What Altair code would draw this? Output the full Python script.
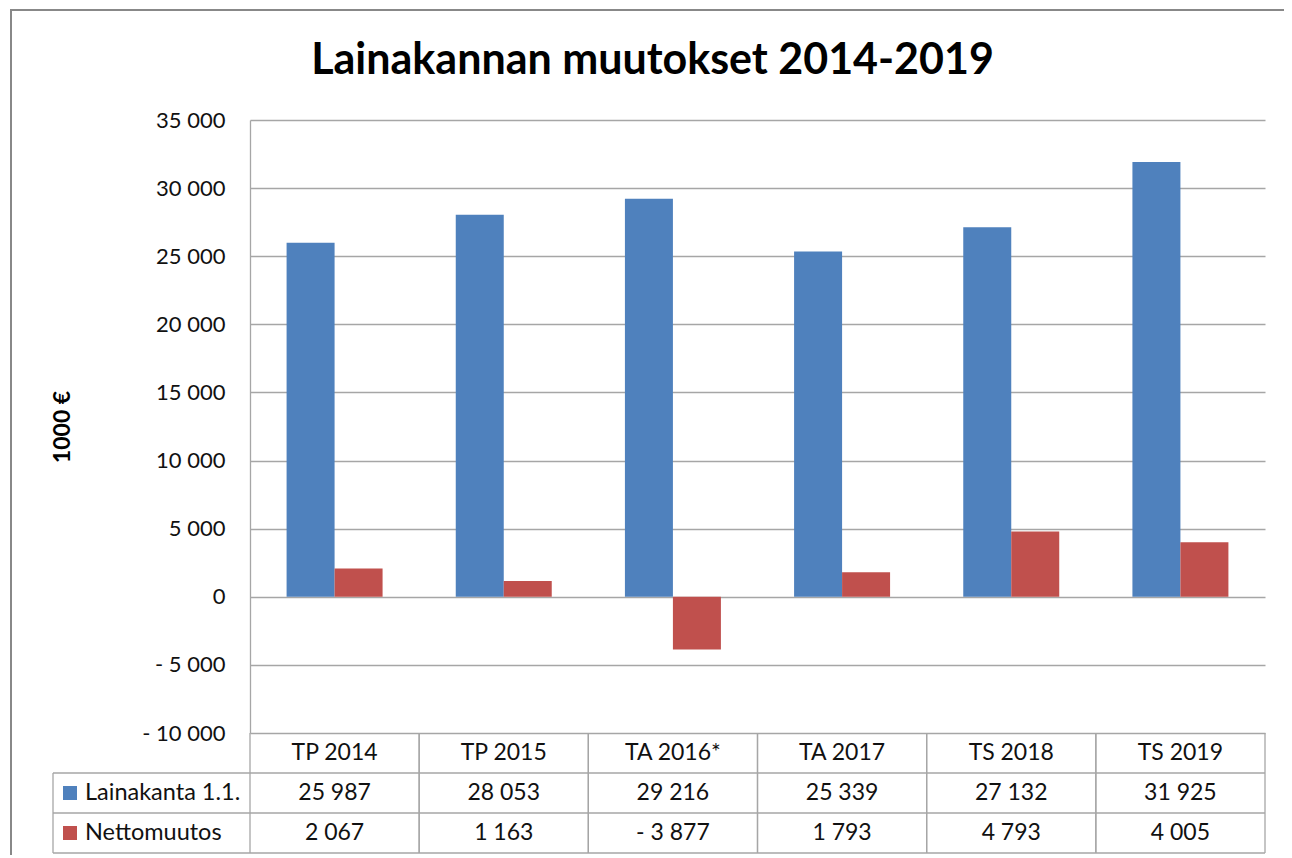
import altair as alt
import pandas as pd

# ---------------- data ----------------
categories = ["TP 2014", "TP 2015", "TA 2016*", "TA 2017", "TS 2018", "TS 2019"]
series_names = ["Lainakanta 1.1.", "Nettomuutos"]
lainakanta = [25987, 28053, 29216, 25339, 27132, 31925]
nettomuutos = [2067, 1163, -3877, 1793, 4793, 4005]
series_colors = ["#4F81BD", "#C0504D"]
y_ticks = [-10000, -5000, 0, 5000, 10000, 15000, 20000, 25000, 30000, 35000]
table_rows = ["otsikko", "Lainakanta 1.1.", "Nettomuutos"]
chart_title = "Lainakannan muutokset 2014-2019"
y_title = "1000 €"


def fmt(v):
    s = f"{abs(v):,}".replace(",", " ")
    return ("- " + s) if v < 0 else s


records = []
for name, vals in zip(series_names, [lainakanta, nettomuutos]):
    for c, v in zip(categories, vals):
        records.append({"kategoria": c, "sarja": name, "arvo": v, "teksti": fmt(v)})
df = pd.DataFrame(records)
cat_df = pd.DataFrame({"kategoria": categories, "rivi": table_rows[0]})
row_df = pd.DataFrame({"rivi": table_rows})
leg_df = pd.DataFrame({"sarja": series_names})

# ---------------- layout ----------------
W, H = 1015, 613
TABLE_TOP, TABLE_BOTTOM = H, H + 120
LEG_LEFT = -197
FONT = "Lato"
LINE = "#A6A6A6"
TEXT = "#111111"
FS_TICK = 22
FS_TABLE = 23
FS_LEG = 23.5

x_scale = alt.Scale(domain=categories, paddingInner=0, paddingOuter=0)
row_scale = alt.Scale(type="band", domain=table_rows, range=[TABLE_TOP, TABLE_BOTTOM],
                      paddingInner=0, paddingOuter=0)
color_scale = alt.Scale(domain=series_names, range=series_colors)

label_expr = ("datum.value == 0 ? '0' : (datum.value < 0 ? '- ' : '') + "
              "format(abs(datum.value) / 1000, 'd') + ' 000'")

frame = alt.Chart(pd.DataFrame({"k": [0]})).mark_rect(
    fillOpacity=0, stroke="#888888", strokeWidth=2
).encode(x=alt.value(-239), x2=alt.value(1080), y=alt.value(-110), y2=alt.value(800))

bars = alt.Chart(df).mark_bar(size=48).encode(
    x=alt.X("kategoria:N", scale=x_scale, sort=categories, axis=None),
    xOffset=alt.XOffset("sarja:N", sort=series_names,
                        scale=alt.Scale(domain=series_names, paddingInner=0, paddingOuter=0.7625)),
    y=alt.Y("arvo:Q",
            scale=alt.Scale(domain=[-10000, 35000], nice=False, zero=False),
            axis=alt.Axis(values=y_ticks, labelExpr=label_expr, grid=True,
                          gridColor=LINE, gridWidth=1.3, domainColor=LINE, domainWidth=1.3,
                          ticks=False, labelPadding=25, labelFont=FONT, labelFontSize=FS_TICK,
                          labelColor=TEXT,
                          title=y_title, titleFont=FONT, titleFontSize=23,
                          titleFontWeight="bold", titleColor="#000000", titleAngle=270,
                          titleX=-188, titleY=H / 2, titleAlign="center",
                          titleBaseline="middle")),
    color=alt.Color("sarja:N", scale=color_scale, legend=None),
)

# table lines
h_rules = alt.Chart(row_df).mark_rule(color=LINE, strokeWidth=1.3).encode(
    y=alt.Y("rivi:N", scale=row_scale, bandPosition=1, axis=None),
    x=alt.value(LEG_LEFT), x2=alt.value(W),
)
v_rules_end = alt.Chart(cat_df).mark_rule(color=LINE, strokeWidth=1.3).encode(
    x=alt.X("kategoria:N", scale=x_scale, bandPosition=1, axis=None),
    y=alt.value(TABLE_TOP), y2=alt.value(TABLE_BOTTOM),
)
v_rules_start = alt.Chart(cat_df).mark_rule(color=LINE, strokeWidth=1.3).encode(
    x=alt.X("kategoria:N", scale=x_scale, bandPosition=0, axis=None),
    y=alt.value(TABLE_TOP), y2=alt.value(TABLE_BOTTOM),
)
leg_rule = alt.Chart(pd.DataFrame({"k": [0]})).mark_rule(color=LINE, strokeWidth=1.3).encode(
    x=alt.value(LEG_LEFT), y=alt.value(TABLE_TOP + 40), y2=alt.value(TABLE_BOTTOM),
)

header_text = alt.Chart(cat_df).mark_text(font=FONT, fontSize=FS_TABLE, color=TEXT).encode(
    x=alt.X("kategoria:N", scale=x_scale, axis=None),
    y=alt.Y("rivi:N", scale=row_scale, axis=None),
    text="kategoria:N",
)
value_text = alt.Chart(df).mark_text(font=FONT, fontSize=FS_TABLE, color=TEXT).encode(
    x=alt.X("kategoria:N", scale=x_scale, axis=None),
    y=alt.Y("sarja:N", scale=row_scale, axis=None),
    text="teksti:N",
)
leg_square = alt.Chart(leg_df).mark_square(size=196, opacity=1).encode(
    x=alt.value(-180),
    y=alt.Y("sarja:N", scale=row_scale, axis=None),
    color=alt.Color("sarja:N", scale=color_scale, legend=None),
)
leg_text = alt.Chart(leg_df).mark_text(font=FONT, fontSize=FS_LEG, color=TEXT, align="left").encode(
    x=alt.value(-165),
    y=alt.Y("sarja:N", scale=row_scale, axis=None),
    text="sarja:N",
)

chart = alt.layer(
    frame, bars, h_rules, v_rules_start, v_rules_end, leg_rule,
    header_text, value_text, leg_square, leg_text,
).resolve_scale(y="independent").properties(
    width=W, height=H,
    autosize=alt.AutoSizeParams(type="none"),
    padding={"left": 242, "top": 112, "right": 19, "bottom": 122},
    background="white",
    title=alt.TitleParams(text=chart_title, font=FONT, fontSize=43, fontWeight="bold",
                          color="#000000", anchor="middle", baseline="alphabetic",
                          offset=0, dx=-105, dy=108),
).configure_view(strokeWidth=0)

chart.save("out.html", embed_options={"renderer": "svg", "actions": False})
